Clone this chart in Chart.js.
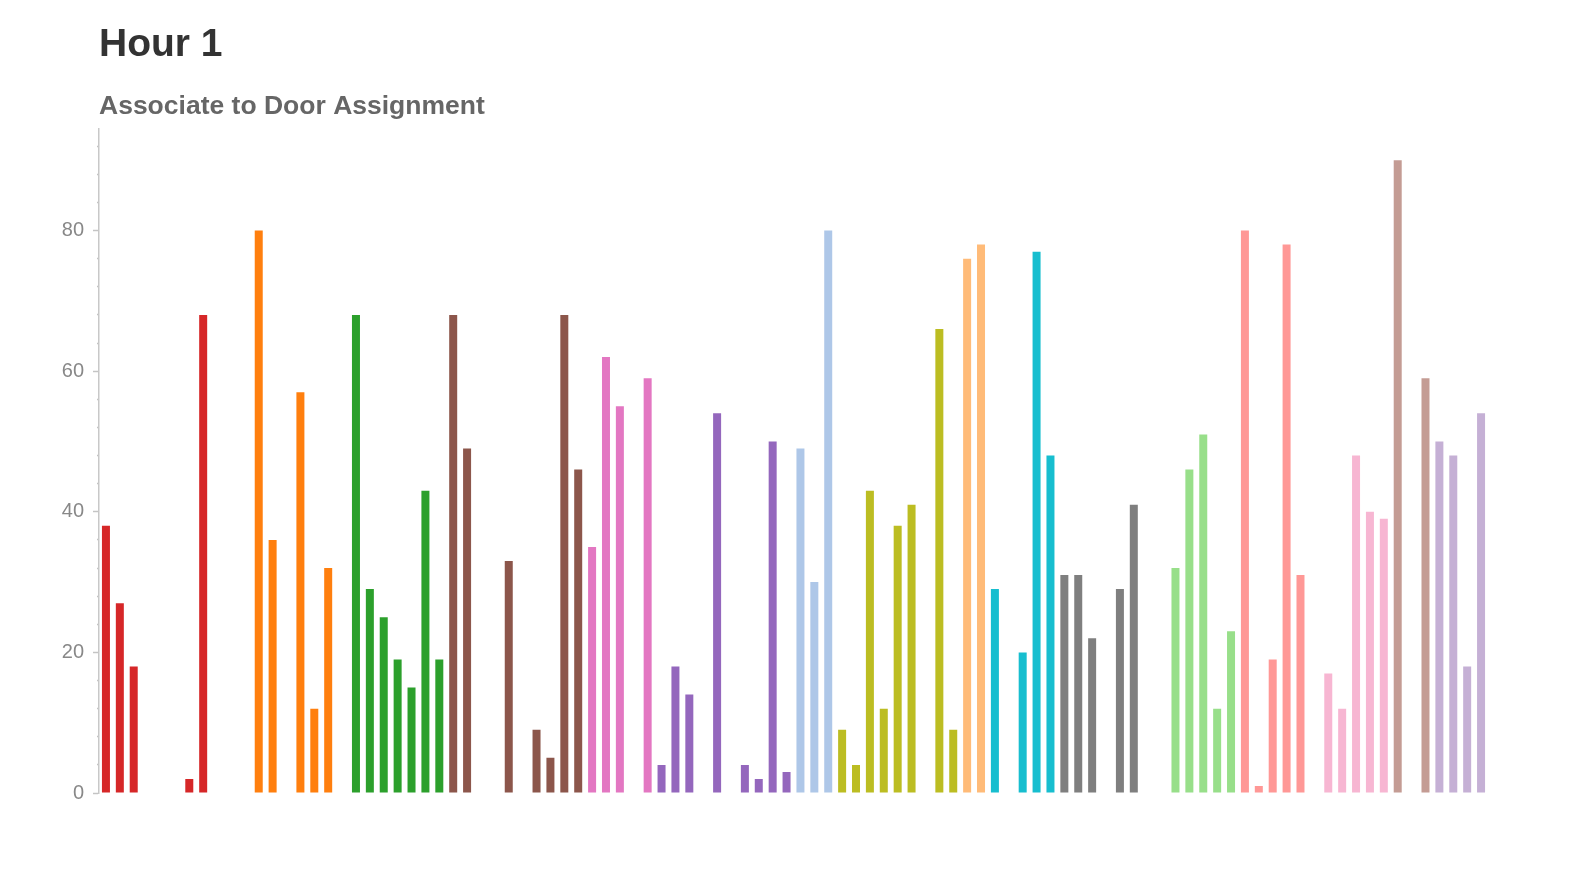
<!DOCTYPE html>
<html>
<head>
<meta charset="utf-8">
<title>Hour 1</title>
<script src="https://cdn.jsdelivr.net/npm/chart.js@4/dist/chart.umd.min.js"></script>
<style>
  html, body { margin: 0; padding: 0; background: #fff; }
  #wrap { position: relative; width: 1584px; height: 891px; }
</style>
</head>
<body>
<div id="wrap"><canvas id="chart"></canvas></div>
<script>
// door slots, one bar per door, null = no assignment
var doorValues = [
  38, 27, 18, null, null, null, 2, 68, null, null,
  null, 80, 36, null, 57, 12, 32, null, 68, 29,
  25, 19, 15, 43, 19, 68, 49, null, null, 33,
  null, 9, 5, 68, 46, 35, 62, 55, null, 59,
  4, 18, 14, null, 54, null, 4, 2, 50, 3,
  49, 30, 80, 9, 4, 43, 12, 38, 41, null,
  66, 9, 76, 78, 29, null, 20, 77, 48, 31,
  31, 22, null, 29, 41, null, null, 32, 46, 51,
  12, 23, 80, 1, 19, 78, 31, null, 17, 12,
  48, 40, 39, 90, null, 59, 50, 48, 18, 54
];

// first door slot of each associate, and that associate's colour
var associateFirstDoor = [0, 8, 17, 25, 35, 40, 50, 53, 62, 64, 69, 75, 82, 87, 93, 96];
var associateColors = [
  '#d62728', '#ff7f0e', '#2ca02c', '#8c564b', '#e377c2', '#9467bd', '#aec7e8', '#bcbd22',
  '#ffbb78', '#17becf', '#7f7f7f', '#98df8a', '#ff9896', '#f7b6d2', '#c49c94', '#c5b0d5'
];

var yMax = 94.5;
var yStep = 4;
var yLabelEvery = 20;

var doorLabels = doorValues.map(function (_, i) { return 'Door ' + (i + 1); });

function colorFor(i) {
  var g = 0;
  for (var k = 0; k < associateFirstDoor.length; k++) {
    if (i >= associateFirstDoor[k]) g = k;
  }
  return associateColors[g];
}

var FONT = "'Liberation Sans', Arial, Helvetica, sans-serif";

new Chart(document.getElementById('chart'), {
  type: 'bar',
  data: {
    labels: doorLabels,
    datasets: [{
      label: 'Associate to Door Assignment',
      data: doorValues,
      backgroundColor: doorValues.map(function (_, i) { return colorFor(i); }),
      borderWidth: 0,
      categoryPercentage: 1,
      barPercentage: 0.576
    }]
  },
  options: {
    responsive: true,
    maintainAspectRatio: false,
    animation: false,
    layout: { padding: { left: 0, right: 96, top: 0, bottom: 98 } },
    plugins: {
      legend: { display: false },
      title: {
        display: true,
        text: 'Hour 1',
        align: 'start',
        fullSize: false,
        color: '#333333',
        font: { family: FONT, size: 39, weight: 'bold', lineHeight: 1.2 },
        padding: { top: 22, bottom: 0 }
      },
      subtitle: {
        display: true,
        text: 'Associate to Door Assignment',
        align: 'start',
        fullSize: false,
        color: '#666666',
        font: { family: FONT, size: 26.5, weight: 'bold', lineHeight: 1.2 },
        padding: { top: 22, bottom: 6 }
      }
    },
    scales: {
      x: {
        display: false,
        grid: { display: false }
      },
      y: {
        min: 0,
        max: yMax,
        afterFit: function (scale) { scale.width = 99; },
        border: { display: true, color: '#c8c8c8', width: 1.5 },
        grid: {
          drawOnChartArea: false,
          drawTicks: true,
          tickLength: 6,
          tickWidth: 1.5,
          tickColor: '#c4c4c4',
          // short minor ticks: only the last 2px of the 6px tick are inked
          tickBorderDash: function (ctx) {
            return ctx.tick && ctx.tick.value % yLabelEvery === 0 ? [] : [0, 4, 2];
          }
        },
        ticks: {
          stepSize: yStep,
          includeBounds: false,
          padding: 9,
          color: '#888888',
          font: { family: FONT, size: 20 },
          callback: function (v) { return v % yLabelEvery === 0 ? v : ''; }
        }
      }
    }
  }
});
</script>
</body>
</html>
